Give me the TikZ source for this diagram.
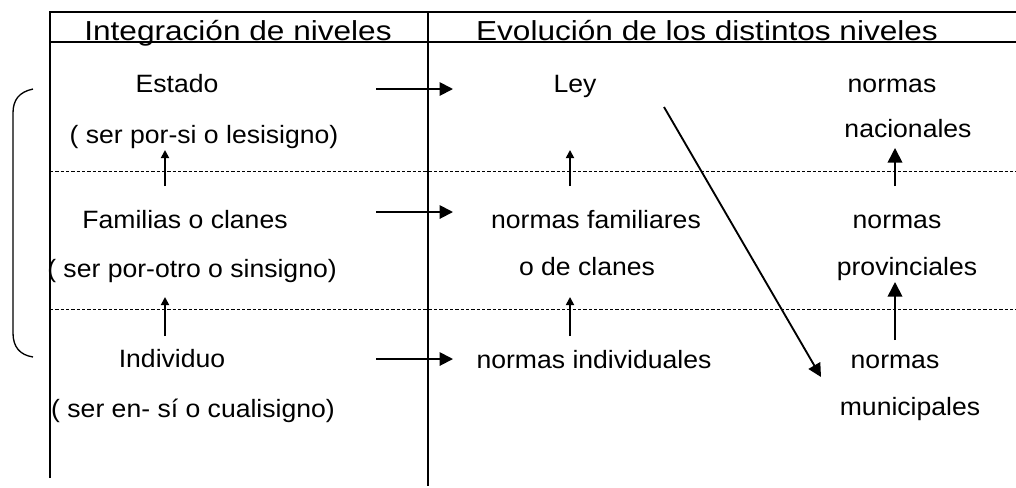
\documentclass[tikz,border=0pt]{standalone}
\usepackage{fontspec}
\setmainfont{Liberation Sans}[FakeStretch=1.06]
\newfontfamily\headfont{Liberation Sans}[FakeStretch=1.15]
\usetikzlibrary{arrows.meta}

\begin{document}
\begin{tikzpicture}[
		x=0.75pt, y=-0.75pt,
		font=\fontsize{18.8}{22}\selectfont,
		txt/.style={anchor=base, inner sep=0pt},
		head/.style={anchor=base, inner sep=0pt, font=\headfont\fontsize{20.6}{24}\selectfont},
		rule/.style={line width=1.1pt},
		level/.style={line width=0.6pt, dash pattern=on 2.5pt off 1.5pt},
		goes/.style={-{Triangle[length=10pt,width=10pt]}, line width=1.4pt},
		rises/.style={-{Triangle[length=6pt,width=6pt]}, line width=1.3pt},
		risesbig/.style={-{Triangle[length=11pt,width=11pt]}, line width=1.3pt}
		]
		\useasboundingbox (0,0) rectangle (1016,487);
		
		% Draw table
		\draw[rule] (50,478) -- (50,12) -- (1016,12);
		\draw[rule] (50,42) -- (1016,42);
		\draw[rule] (428,12) -- (428,486);
		\draw[level] (50,171) -- (1016,171);
		\draw[level] (50,309) -- (1016,309);
		
		\node[head] (hIntegra) at (238,40) {Integración de niveles};
		\node[head] (hEvol) at (707,40) {Evolución de los distintos niveles};
		
		% Left column
		\node[txt] (estado) at (177,92) {Estado};
		\node[txt] (estadoSer) at (204,143) {( ser por-si o lesisigno)};
		\node[txt] (familias) at (185,228) {Familias o clanes};
		\node[txt] (familiasSer) at (192,277) {( ser por-otro o sinsigno)};
		\node[txt] (individuo) at (172,367) {Individuo};
		\node[txt] (individuoSer) at (193,417) {( ser en- sí o cualisigno)};
		
		% Right column
		\node[txt] (ley) at (575,92) {Ley};
		\node[txt] (nacA) at (892,92) {normas};
		\node[txt] (nacB) at (908,137) {nacionales};
		\node[txt] (famNormas) at (596,228) {normas familiares};
		\node[txt] (famClanes) at (587,275) {o de clanes};
		\node[txt] (provA) at (897,228) {normas};
		\node[txt] (provB) at (907,275) {provinciales};
		\node[txt] (indNormas) at (594,368) {normas individuales};
		\node[txt] (munA) at (895,368) {normas};
		\node[txt] (munB) at (910,415) {municipales};
		
		\draw
		(376,89) coordinate (E1) (453,89) coordinate (E2)
		(376,212) coordinate (F1) (453,212) coordinate (F2)
		(376,359) coordinate (I1) (453,359) coordinate (I2)
		(165,186) coordinate (a1) (165,150) coordinate (a2)
		(165,336) coordinate (b1) (165,297) coordinate (b2)
		(570,186) coordinate (c1) (570,150) coordinate (c2)
		(570,336) coordinate (d1) (570,297) coordinate (d2)
		(895,186) coordinate (e1) (895,148) coordinate (e2)
		(895,340) coordinate (f1) (895,282) coordinate (f2)
		(664,107) coordinate (D1) (821,377) coordinate (D2);
		
		\draw[goes] (E1) -- (E2);
		\draw[goes] (F1) -- (F2);
		\draw[goes] (I1) -- (I2);
		
		\draw[rises] (a1) -- (a2);
		\draw[rises] (b1) -- (b2);
		\draw[rises] (c1) -- (c2);
		\draw[rises] (d1) -- (d2);
		\draw[risesbig] (e1) -- (e2);
		\draw[risesbig] (f1) -- (f2);
		\draw[goes] (D1) -- (D2);
		
		% Bracket
		\draw[line width=1pt] (33,89) .. controls (19,92) and (13,100) .. (13,113)
		-- (13,333) .. controls (13,347) and (20,355) .. (33,357);
\end{tikzpicture}
\end{document}
